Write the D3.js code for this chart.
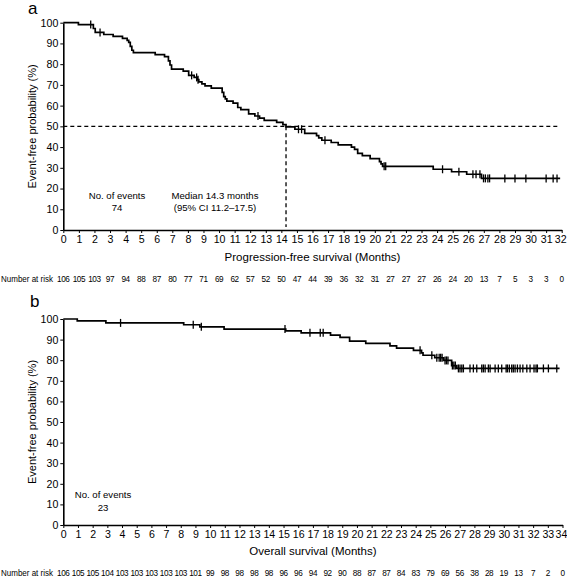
<!DOCTYPE html>
<html><head><meta charset="utf-8">
<script src="https://cdn.jsdelivr.net/npm/d3@7"></script>
<style>
html,body{margin:0;padding:0;background:#fff;}
svg{display:block;font-family:"Liberation Sans",Arial,sans-serif;}
</style></head>
<body>
<svg id="c" width="567" height="579"></svg>
<script>
// ---------- DATA ----------
// Progression-free survival: [month, event-free %] after each step
const pfsSteps = [[0,100],[0.97,99.1],[1.93,97.2],[2.05,95.3],[2.6,94.3],[3.2,93.4],[3.8,92.4],[4.1,91.5],[4.2,90.5],[4.3,88.6],[4.4,86.7],[4.5,85.6],[5.9,84.6],[6.5,83.6],[6.75,81.6],[6.85,79.6],[6.95,77.6],[7.7,76.6],[8.05,74.6],[8.4,73.6],[8.6,72.5],[8.7,71.5],[8.9,70.5],[9.1,69.5],[9.5,68.4],[10.2,66.4],[10.3,64.3],[10.4,63.3],[10.5,62.2],[10.9,61.2],[11.2,59.1],[11.4,58.1],[11.9,56.0],[12.3,55.0],[12.6,54.0],[12.9,52.9],[13.7,51.9],[14.1,50.8],[14.3,49.7],[14.87,48.6],[15.5,46.6],[16.26,45.5],[16.4,44.4],[16.6,43.3],[17.2,42.2],[17.65,41.1],[18.5,40.0],[18.7,38.9],[18.9,37.0],[19.2,35.9],[19.7,34.4],[20.3,33.0],[20.4,31.9],[20.5,30.7],[23.75,29.3],[24.93,28.1],[25.9,26.9],[26.85,24.9]];
const pfsCensored = [1.76,2.36,8.24,8.56,8.65,12.5,15.1,15.3,16.8,20.6,20.7,24.35,25.4,26.3,26.5,26.75,26.98,27.1,27.26,27.37,28.35,29.0,29.7,31.0,31.45,31.7];
const pfsEnd = 31.9;
const pfsMonths = d3.range(0, 33);
const pfsAtRisk = [106,105,103,97,94,88,87,80,77,71,69,62,57,52,50,47,44,39,36,32,31,27,27,27,26,24,20,13,7,5,3,3,0];
const pfsMedian = 14.3;

// Overall survival
const osSteps = [[0,100],[0.95,99.1],[2.9,98.1],[8.2,97.2],[9.3,96.2],[10.95,95.1],[15.15,94.2],[16.2,93.3],[18.2,92.2],[18.85,91.1],[19.5,89.3],[20.6,88.2],[22.25,87.0],[22.7,85.9],[23.85,84.8],[24.4,83.6],[24.5,82.4],[25.3,81.2],[25.9,79.9],[26.45,77.4],[26.8,76.0]];
const osCensored = [3.9,8.85,9.4,15.1,16.8,17.5,17.7,24.3,25.1,25.44,25.6,25.7,25.8,26.0,26.1,26.2,26.5,26.6,26.7,26.91,27.02,27.14,27.25,27.70,27.93,28.16,28.50,28.61,28.73,28.95,29.07,29.41,29.63,29.86,30.16,30.25,30.38,30.54,30.65,30.77,30.93,31.11,31.30,31.57,31.79,32.06,32.20,32.29,32.70,33.04,33.61];
const osEnd = 33.8;
const osMonths = d3.range(0, 35);
const osAtRisk = [106,105,105,104,103,103,103,103,103,101,99,98,98,98,98,96,96,94,92,90,88,87,87,84,83,79,69,56,38,28,19,13,7,2,0];

const yTicks = [0,10,20,30,40,50,60,70,80,90,100];

// ---------- DRAW ----------
const svg = d3.select("#c");

function stepValue(steps, t){
  let v = steps[0][1];
  for (const s of steps){ if (s[0] <= t) v = s[1]; }
  return v;
}

function panel(o){
  const x = d3.scaleLinear().domain([0, o.xmax]).range([63.3, o.xright]);
  const y = d3.scaleLinear().domain([0, 100]).range([o.ybottom, o.ytop]);
  const g = svg.append("g");

  // panel letter
  g.append("text").attr("x", o.letterX).attr("y", o.letterY).attr("font-size", 17).text(o.letter);

  // y axis
  const ya = g.append("g").attr("transform", `translate(${x(0)},0)`)
    .call(d3.axisLeft(y).tickValues(yTicks).tickSize(3).tickSizeOuter(0).tickPadding(2));
  ya.select(".domain").attr("stroke-width", 1.6);
  ya.selectAll(".tick line").attr("stroke-width", 1);
  ya.selectAll("text").attr("font-size", 10.6).attr("font-family", "Liberation Sans, Arial, sans-serif").attr("fill", "#000");

  // x axis
  const xa = g.append("g").attr("transform", `translate(0,${y(0)})`)
    .call(d3.axisBottom(x).tickValues(o.months).tickFormat(d3.format("d")).tickSize(3).tickSizeOuter(0).tickPadding(2));
  xa.select(".domain").attr("stroke-width", 1.6);
  xa.selectAll(".tick line").attr("stroke-width", 1);
  xa.selectAll("text").attr("font-size", 10.6).attr("font-family", "Liberation Sans, Arial, sans-serif").attr("fill", "#000")
    .attr("dx", d => d === o.xmax ? -1.5 : 0);

  // axis titles
  g.append("text").attr("transform", `translate(36,${(y(0)+y(100))/2}) rotate(-90)`)
    .attr("text-anchor", "middle").attr("font-size", 11).text("Event-free probability (%)");
  g.append("text").attr("x", (x(0)+x(o.xmax))/2).attr("y", o.titleY)
    .attr("text-anchor", "middle").attr("font-size", 11.5).text(o.title);

  // number at risk
  g.append("text").attr("x", 1).attr("y", o.riskY).attr("font-size", 8.2)
    .attr("textLength", 52).attr("lengthAdjust", "spacingAndGlyphs").text("Number at risk");
  g.selectAll(null).data(o.risk).enter().append("text")
    .attr("x", (d, i) => x(o.months[i])).attr("y", o.riskY)
    .attr("text-anchor", "middle").attr("font-size", 8.2).attr("letter-spacing", -0.4).text(d => d);

  // median lines
  if (o.median != null){
    g.append("line").attr("x1", x(0)).attr("x2", x(pfsEnd)).attr("y1", y(50)).attr("y2", y(50))
      .attr("stroke", "#000").attr("stroke-width", 1.3).attr("stroke-dasharray", "4,3");
    g.append("line").attr("x1", x(o.median)).attr("x2", x(o.median)).attr("y1", y(50)).attr("y2", y(0)-3)
      .attr("stroke", "#000").attr("stroke-width", 1.3).attr("stroke-dasharray", "4,3");
  }

  // curve
  const pts = o.steps.concat([[o.end, o.steps[o.steps.length-1][1]]]);
  g.append("path").datum(pts)
    .attr("d", d3.line().x(d => x(d[0])).y(d => y(d[1])).curve(d3.curveStepAfter))
    .attr("fill", "none").attr("stroke", "#000").attr("stroke-width", 1.7);

  // censor marks
  g.selectAll(null).data(o.censored).enter().append("line")
    .attr("x1", d => x(d)).attr("x2", d => x(d))
    .attr("y1", d => y(stepValue(o.steps, d)) - 4).attr("y2", d => y(stepValue(o.steps, d)) + 4)
    .attr("stroke", "#000").attr("stroke-width", 1.3);

  // annotations
  o.notes.forEach(n => {
    g.append("text").attr("x", n.x).attr("y", n.y).attr("text-anchor", "middle")
      .attr("font-size", 9.6).text(n.t);
  });
}

panel({
  letter: "a", letterX: 28, letterY: 14,
  xmax: 32, xright: 561.7, ytop: 22.7, ybottom: 230,
  months: pfsMonths, risk: pfsAtRisk, steps: pfsSteps, censored: pfsCensored, end: pfsEnd,
  median: pfsMedian,
  title: "Progression-free survival (Months)", titleY: 261, riskY: 282,
  notes: [
    {x: 117, y: 199, t: "No. of events"}, {x: 117, y: 211, t: "74"},
    {x: 215, y: 199, t: "Median 14.3 months"}, {x: 215, y: 211, t: "(95% CI 11.2\u201317.5)"}
  ]
});

panel({
  letter: "b", letterX: 30, letterY: 307,
  xmax: 34, xright: 562.5, ytop: 319, ybottom: 525,
  months: osMonths, risk: osAtRisk, steps: osSteps, censored: osCensored, end: osEnd,
  median: null,
  title: "Overall survival (Months)", titleY: 555, riskY: 576,
  notes: [
    {x: 103, y: 498, t: "No. of events"}, {x: 103, y: 511, t: "23"}
  ]
});
</script>
</body></html>
